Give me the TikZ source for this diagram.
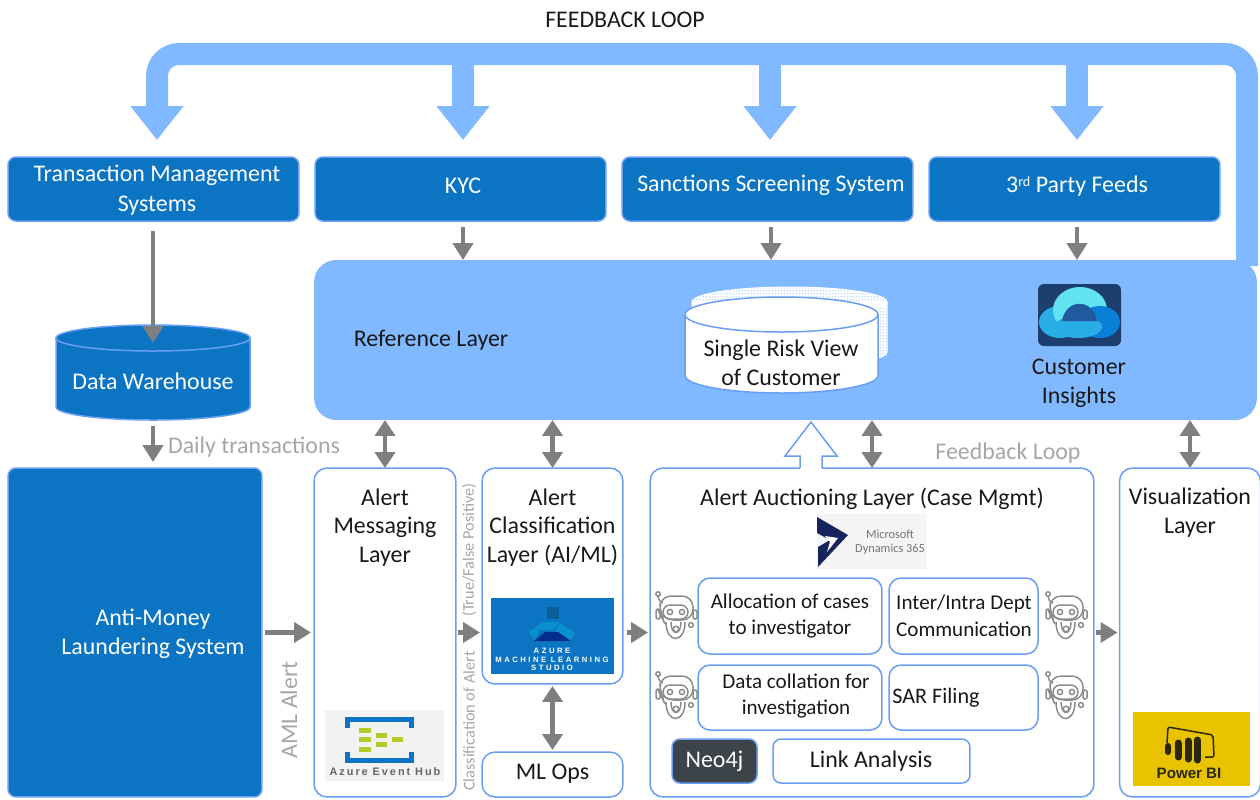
\documentclass[tikz,border=0pt]{standalone}
\usepackage{fontspec}
\setmainfont{Carlito}
\newfontfamily\logofont{Liberation Sans}
\newfontfamily\logowide[LetterSpace=18]{Liberation Sans}
\newfontfamily\logowider[LetterSpace=32]{Liberation Sans}
\usetikzlibrary{arrows.meta,patterns}
\definecolor{paleblue}{HTML}{80B9FF}
\definecolor{darkblue}{HTML}{0B75C3}
\definecolor{edgeblue}{HTML}{6A9EF5}
\definecolor{flowgray}{HTML}{7F7F7F}
\definecolor{softgray}{HTML}{A6A6A6}
\definecolor{neodark}{HTML}{3D4449}
\definecolor{hubgreen}{HTML}{B5C92A}
\definecolor{biyellow}{HTML}{E8C300}
\definecolor{biblack}{HTML}{2B2710}
\definecolor{dynanavy}{HTML}{16235C}
\definecolor{cloudbg}{HTML}{1C3F70}
\definecolor{cloudcyan}{HTML}{62E3F2}
\definecolor{cloudmid}{HTML}{29ADE6}
\definecolor{clouddeep}{HTML}{0A7FD6}
\definecolor{clouddome}{HTML}{1F5A9E}
\pgfdeclarepatternformonly{finedots}{\pgfpointorigin}{\pgfqpoint{1.5pt}{1.5pt}}{\pgfqpoint{1.5pt}{1.5pt}}{
  \pgfpathcircle{\pgfqpoint{.75pt}{.75pt}}{.42pt}\pgfusepath{fill}}
\tikzset{
  lbl/.style={inner sep=0pt,outer sep=0pt,align=center,text=black!90,font=\fontsize{13.6}{16.4}\selectfont},
  caselbl/.style={lbl,font=\fontsize{12}{15.2}\selectfont},
  whitelbl/.style={lbl,text=white},
  graylbl/.style={lbl,text=softgray},
  logotxt/.style={inner sep=0pt,outer sep=0pt},
  darkbox/.style={draw=edgeblue,fill=darkblue,line width=.03cm,rounded corners=.16cm,inner sep=0pt,outer sep=0pt},
  layerbox/.style={draw=edgeblue,fill=white,line width=.03cm,rounded corners=.26cm,inner sep=0pt,outer sep=0pt},
  subbox/.style={layerbox,rounded corners=.24cm},
  flow/.style={draw=flowgray,line width=.09cm,-{Triangle[length=.34cm,width=.4cm]}},
  biflow/.style={draw=flowgray,line width=.09cm,{Triangle[length=.32cm,width=.4cm]}-{Triangle[length=.32cm,width=.4cm]}},
  loopflow/.style={draw=paleblue,line width=.44cm,-{Triangle[length=.68cm,width=1.02cm]},shorten >=.34cm},
  robot/.pic={
    \begin{scope}[draw=flowgray!90,line width=.03cm]
    \draw (3,2) circle [radius=2.2];
    \draw (3,4) .. controls (4,9) and (5,10) .. (8,11);
    \draw[rounded corners=.22cm] (5,22) -- (5,4) -- (38,4) -- (38,28) -- (8,28) -- cycle;
    \draw[rounded corners=.14cm] (8,13) rectangle (33,27);
    \draw (15,20) circle [radius=2.6];
    \draw (27,20) circle [radius=2.6];
    \draw[rounded corners=.04cm] (1,17) rectangle (5,27);
    \draw[rounded corners=.04cm] (38,18) rectangle (42,27);
    \draw (36,33) circle [radius=2.4];
    \draw (11,30) .. controls (11,52) and (30,52) .. (30,30);
    \draw (16,30) .. controls (16,44) and (26,44) .. (26,30);
    \draw (21,37) circle [radius=2.8];
    \end{scope}
  }
}
% cylinder: x1, x2, top, bottom, y radius, style
\newcommand{\drum}[6]{
\filldraw[#6] (#1,#3+#5) -- (#1,#4-#5)
  arc [start angle=180,end angle=0,x radius={(#2-#1)/2},y radius=#5]
  -- (#2,#3+#5)
  arc [start angle=0,end angle=-180,x radius={(#2-#1)/2},y radius=#5] -- cycle;
\draw[#6,fill=none] (#1,#3+#5)
  arc [start angle=180,end angle=0,x radius={(#2-#1)/2},y radius=#5];
}
\begin{document}
\begin{tikzpicture}[x=.02cm,y=-.02cm]
\useasboundingbox (0,0) rectangle (1260,799);
% feedback loop
\node[lbl] (looptitle) at (625,20) {FEEDBACK LOOP};
\coordinate (looptail) at (1247,266);
\coordinate (tmsdrop) at (157,157);
\coordinate (kycdrop) at (463,157);
\coordinate (sancdrop) at (770,157);
\coordinate (thirddrop) at (1077,157);
\coordinate (looptop) at (600,54);
\draw[loopflow,rounded corners=.44cm] (looptail) |- (looptop) -| (tmsdrop);
\draw[loopflow] (kycdrop |- looptop) -- (kycdrop);
\draw[loopflow] (sancdrop |- looptop) -- (sancdrop);
\draw[loopflow] (thirddrop |- looptop) -- (thirddrop);
% source systems
\node[darkbox,minimum width=5.82cm,minimum height=1.28cm] (tms) at (153.5,189) {};
\node[darkbox,minimum width=5.82cm,minimum height=1.28cm] (kyc) at (460.5,189) {};
\node[darkbox,minimum width=5.82cm,minimum height=1.28cm] (sanc) at (767.5,189) {};
\node[darkbox,minimum width=5.82cm,minimum height=1.28cm] (third) at (1074.5,189) {};
\node[whitelbl] (tmstext) at (157,190) {Transaction Management\\[.5pt]Systems};
\node[whitelbl] (kyctext) at (463,186) {KYC};
\node[whitelbl] (sanctext) at (771,185) {Sanctions Screening System};
\node[whitelbl] (thirdtext) at (1077,186) {3\raisebox{.55ex}{\fontsize{8}{8}\selectfont rd} Party Feeds};
% reference layer
\node[fill=paleblue,rounded corners=.44cm,minimum width=18.86cm,minimum height=3.2cm,inner sep=0pt,outer sep=0pt] (ref) at (785.5,340) {};
\node[lbl] (reftext) at (431,340) {Reference Layer};
\drum{692}{887}{287}{367}{15}{draw=white,line width=.02cm,preaction={fill=white},pattern=finedots,pattern color=paleblue}
\drum{685}{878}{297}{393}{17.5}{draw=edgeblue,fill=white,line width=.03cm}
\node[lbl] (risktext) at (781,362.5) {Single Risk View\\of Customer};
% customer insights icon
\fill[cloudbg,rounded corners=.12cm] (1038,284) rectangle (1121,346);
\fill[cloudmid] (1060,322) ellipse [x radius=21,y radius=16];
\fill[cloudcyan] (1080,310) ellipse [x radius=27,y radius=23];
\fill[clouddeep] (1100,322) ellipse [x radius=20,y radius=16];
\fill[cloudmid] (1078,327) ellipse [x radius=24,y radius=11];
\fill[clouddome] (1062,321) .. controls (1066,298) and (1093,298) .. (1097,321) -- cycle;
\node[lbl] (insighttext) at (1079,383) {Customer\\Insights};
% data warehouse
\drum{56}{250}{325}{420}{13}{draw=edgeblue,fill=darkblue,line width=.03cm}
\node[whitelbl] (dw) at (153,381) {Data Warehouse};
\coordinate (dwtop) at (153,343);
\coordinate (dwbase) at (153,420);
\draw[flow,shorten <=.2cm] (tms.south -| dwtop) -- (dwtop);
% layers
\node[darkbox,minimum width=5.08cm,minimum height=6.58cm] (aml) at (135,632.5) {};
\node[whitelbl] (amltext) at (153,634) {Anti-Money\\Laundering System};
\node[layerbox,minimum width=2.84cm,minimum height=6.58cm] (msg) at (385,632.5) {};
\node[lbl] (msgtext) at (385,527.5) {Alert\\Messaging\\Layer};
\node[layerbox,minimum width=2.82cm,minimum height=4.32cm] (class) at (552.5,576) {};
\node[lbl] (classtext) at (552.5,527.5) {Alert\\Classification\\Layer (AI/ML)};
\node[layerbox,minimum width=2.82cm,minimum height=.9cm] (mlops) at (552.5,774.5) {};
\node[lbl] (mlopstext) at (552.5,774) {ML Ops};
\node[layerbox,minimum width=8.88cm,minimum height=6.58cm] (auct) at (872,632.5) {};
\node[lbl] (aucttext) at (872,498.5) {Alert Auctioning Layer (Case Mgmt)};
\node[layerbox,minimum width=2.82cm,minimum height=6.58cm] (vis) at (1190,632.5) {};
\node[lbl] (vistext) at (1190,512.5) {Visualization\\Layer};
% case management boxes
\node[subbox,minimum width=3.68cm,minimum height=1.52cm] (alloc) at (790,616) {};
\node[caselbl] (alloctext) at (790,616) {Allocation of cases\\to investigator};
\node[subbox,minimum width=2.98cm,minimum height=1.52cm] (inter) at (963.5,616) {};
\node[caselbl] (intertext) at (964,616) {Inter/Intra Dept\\Communication};
\node[subbox,minimum width=3.68cm,minimum height=1.3cm] (collate) at (790,697.5) {};
\node[caselbl] (collatetext) at (796,696) {Data collation for\\investigation};
\node[subbox,minimum width=2.98cm,minimum height=1.3cm] (sar) at (963.5,697.5) {};
\node[caselbl,font=\fontsize{12.6}{15}\selectfont] (sartext) at (936,698) {SAR Filing};
\node[subbox,draw=edgeblue,fill=neodark,rounded corners=.16cm,minimum width=1.7cm,minimum height=.88cm] (neo) at (714.5,761) {};
\node[whitelbl] (neotext) at (714.5,761) {Neo4j};
\node[subbox,rounded corners=.16cm,minimum width=3.94cm,minimum height=.88cm] (link) at (871.5,761) {};
\node[lbl] (linktext) at (871,761) {Link Analysis};
\pic at (655,592) {robot};
\pic at (655,672) {robot};
\pic at (1045,592) {robot};
\pic at (1045,672) {robot};
% dynamics logo
\fill[black!4] (817,514) rectangle (927,569);
\fill[dynanavy] (817,517) -- (848,535) -- (818,567) -- (818,547) -- (830,540) -- (817,533) -- cycle;
\fill[white] (825,536) -- (838,538) -- (827,552) -- (830,542) -- cycle;
\node[logotxt,text=black!55,font=\fontsize{7}{8}\selectfont] (dynaone) at (890,534) {Microsoft};
\node[logotxt,text=black!55,font=\fontsize{7}{8}\selectfont] (dynatwo) at (890,549) {Dynamics 365};
% machine learning logo
\fill[darkblue] (491,598) rectangle (614,674);
\fill[darkblue!80!black] (547,607) rectangle (559,619);
\fill[darkblue!80!cyan] (529,632) -- (543,622) -- (560,622) -- (552,630) -- (540,630) -- (534,640) -- cycle;
\fill[darkblue!80!cyan] (560,623) -- (575,633) -- (570,641) -- (555,630) -- cycle;
\fill[blue!40!darkblue!65!black] (534,641) -- (571,641) -- (558,632) -- (545,632) -- cycle;
\node[logotxt,text=white,font=\logowider\bfseries\fontsize{4.4}{5}\selectfont] (mlone) at (552,650.5) {AZURE};
\node[logotxt,text=white,font=\logowider\bfseries\fontsize{4.4}{5}\selectfont] (mltwo) at (552,659.5) {MACHINE LEARNING};
\node[logotxt,text=white,font=\logowider\bfseries\fontsize{4.4}{5}\selectfont] (mlthree) at (552,668) {STUDIO};
% event hub logo
\fill[black!5] (325,710) rectangle (444,781);
\draw[darkblue,line width=.1cm] (347,728) -- (347,719.5) -- (411,719.5) -- (411,728);
\draw[darkblue,line width=.1cm] (347,752) -- (347,760) -- (411,760) -- (411,752);
\fill[hubgreen] (359,728) rectangle (371,733);
\fill[hubgreen] (359,737) rectangle (371,742);
\fill[hubgreen] (359,747) rectangle (371,752);
\fill[hubgreen] (376,733) rectangle (387,738);
\fill[hubgreen] (376,742) rectangle (387,747);
\fill[hubgreen] (392,737) rectangle (403,742);
\node[logotxt,text=black!60,font=\logowide\bfseries\fontsize{6.2}{7}\selectfont] (hubtext) at (385,772) {Azure Event Hub};
% power bi logo
\fill[biyellow] (1133,712) rectangle (1250,786);
\draw[biblack,line width=.03cm,rounded corners=.04cm] (1167,743) -- (1168,727) -- (1213,735) -- (1214,757) -- (1205,757);
\draw[biblack,line width=.12cm,line cap=round] (1168,746) -- (1168,752);
\draw[biblack,line width=.14cm,line cap=round] (1178,743) -- (1178,757);
\draw[biblack,line width=.14cm,line cap=round] (1188,741) -- (1188,759);
\draw[biblack,line width=.14cm,line cap=round] (1197,740) -- (1197,760);
\node[logotxt,text=biblack,font=\logofont\bfseries\fontsize{8.6}{10}\selectfont] (bitext) at (1189,773) {Power BI};
% hollow arrow
\filldraw[draw=edgeblue,fill=white,line width=.03cm] (800,468.5) -- (800,456) -- (785,456) -- (811,422) -- (837,456) -- (822,456) -- (822,468.5);
\draw[white,line width=.04cm] (800,468.5) -- (822,468.5);
% connectors
\draw[flow,shorten <=.12cm] (kyc.south -| kyctext) -- (kyctext |- ref.north);
\draw[flow,shorten <=.12cm] (sanc.south -| sanctext) -- (sanctext |- ref.north);
\draw[flow,shorten <=.12cm] (third.south -| thirdtext) -- (thirdtext |- ref.north);
\draw[flow,shorten <=.12cm,shorten >=.12cm] (dwbase) -- (dwbase |- aml.north);
\node[graylbl] (dailytext) at (254,447) {Daily transactions};
\draw[biflow] (msg.north) -- (msg.north |- ref.south);
\draw[biflow] (class.north) -- (class.north |- ref.south);
\draw[biflow] (auct.north) -- (auct.north |- ref.south);
\draw[biflow] (vis.north) -- (vis.north |- ref.south);
\draw[biflow,shorten <=.04cm,shorten >=.04cm] (class.south) -- (mlops.north);
\draw[flow,shorten <=.06cm,shorten >=.06cm] (aml.east) -- (msg.west);
\draw[flow,shorten <=.04cm,shorten >=.04cm] (msg.east) -- (class.west |- msg.east);
\draw[flow,shorten <=.08cm,shorten >=.04cm] (class.east |- msg.east) -- (auct.west |- msg.east);
\draw[flow,shorten <=.04cm,shorten >=.04cm] (auct.east) -- (vis.west);
% side labels
\node[graylbl] (feedtext) at (1008,453) {Feedback Loop};
\node[graylbl,rotate=90] (amlalert) at (289,710) {AML Alert};
\node[graylbl,rotate=90,font=\fontsize{9.3}{11}\selectfont] (classalert) at (469,721) {Classification of Alert};
\node[graylbl,rotate=90,font=\fontsize{9.3}{11}\selectfont] (truefalse) at (469,550) {(True/False Positive)};
\end{tikzpicture}
\end{document}
